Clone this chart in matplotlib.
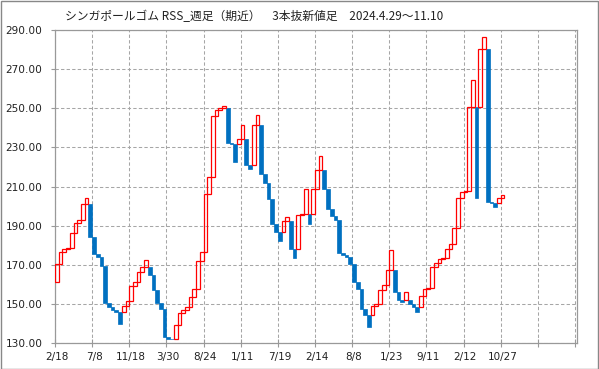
import matplotlib
matplotlib.use("Agg")
import matplotlib.pyplot as plt
from matplotlib.patches import Rectangle

plt.rcParams['lines.scale_dashes'] = False

# ---- data (three-line-break bars) ----
first_open = 161.1
closes = [
    170.5, 176.5, 178.2, 178.7, 186.2, 191.3, 193.0, 201.0, 204.0, 184.1,
    175.4, 174.3, 169.7, 150.4, 148.4, 146.9, 146.2, 139.7, 149.1, 151.6,
    159.1, 161.1, 166.6, 169.0, 172.4, 164.9, 157.1, 150.4, 147.4, 133.1,
    132.4, 132.0, 139.4, 145.7, 147.0, 148.7, 153.5, 157.6, 171.9, 176.5,
    206.1, 214.8, 246.1, 249.1, 250.0, 251.2, 232.5, 231.8, 222.8, 234.2,
    241.3, 221.1, 219.0, 241.5, 246.6, 216.3, 212.0, 203.5, 190.8, 186.7,
    182.4, 192.3, 194.3, 178.0, 173.7, 195.4, 196.0, 208.6, 191.1, 208.6,
    218.3, 225.7, 208.6, 198.4, 194.8, 193.0, 175.9, 175.3, 174.2, 170.3,
    161.5, 157.8, 147.3, 144.2, 138.5, 149.1, 150.1, 157.0, 159.6, 167.4,
    177.6, 156.0, 152.1, 151.2, 156.0, 150.1, 148.4, 146.1, 154.1, 157.6,
    158.2, 168.9, 171.2, 173.0, 173.6, 178.0, 180.6, 188.7, 204.0, 207.1,
    208.0, 250.5, 264.5, 204.4, 280.1, 286.3, 202.3, 201.8, 199.4, 204.4,
    205.6,
]
x_tick_labels = ["2/18", "7/8", "11/18", "3/30", "8/24", "1/11", "7/19",
                 "2/14", "8/8", "1/23", "9/11", "2/12", "10/27"]
y_ticks = [130, 150, 170, 190, 210, 230, 250, 270, 290]
title = "シンガポールゴム RSS_週足（期近）　3本抜新値足　2024.4.29～11.10"

# ---- derive opens / directions (new-value-line rules) ----
opens, ups = [], []
for i, c in enumerate(closes):
    if i == 0:
        o = first_open
        up = c > o
    else:
        pc, po, pup = closes[i - 1], opens[i - 1], ups[i - 1]
        if pup:
            up = c > pc
            o = pc if up else po
        else:
            up = not (c < pc)
            o = pc if not up else po
    opens.append(o)
    ups.append(up)

RED = "#FF0000"
BLUE = "#0070C0"
GRID = "#A6A6A6"
SPINE = "#999999"

fig = plt.figure(figsize=(5.99, 3.69), dpi=100)
W, H = 599, 369
left, right, top, bottom = 55, 577, 30, 343.3
ax = fig.add_axes([left / W, 1 - bottom / H, (right - left) / W, (bottom - top) / H])

up_x = [i + 0.5 for i in range(len(closes)) if ups[i]]
up_b = [opens[i] for i in range(len(closes)) if ups[i]]
up_h = [closes[i] - opens[i] for i in range(len(closes)) if ups[i]]
dn_x = [i + 0.5 for i in range(len(closes)) if not ups[i]]
dn_b = [closes[i] for i in range(len(closes)) if not ups[i]]
dn_h = [opens[i] - closes[i] for i in range(len(closes)) if not ups[i]]

ax.bar(dn_x, dn_h, bottom=dn_b, width=1.0, color=BLUE, edgecolor=BLUE,
       linewidth=0.5, zorder=3)
ax.bar(up_x, up_h, bottom=up_b, width=1.0, fill=False, edgecolor=RED,
       linewidth=0.9, zorder=4)

ax.set_xlim(0, 140.55)
ax.set_ylim(130, 290)

# gridlines / ticks
ax.set_xticks(range(0, 141, 10))
ax.set_xticklabels([])
ax.set_xticks([10 * k + 0.5 for k in range(len(x_tick_labels))], minor=True)
ax.set_xticklabels(x_tick_labels, minor=True)
ax.tick_params(axis='x', which='major', direction='inout', length=6, width=0.8, color=SPINE)
ax.tick_params(axis='x', which='minor', length=0, pad=6, labelsize=7.5, labelcolor='#222222')
ax.set_yticks(y_ticks)
ax.set_yticklabels([f"{v:.2f}" for v in y_ticks])
ax.tick_params(axis='y', direction='out', length=3, width=0.8, color=SPINE, pad=6,
               labelsize=7.6, labelcolor='#222222')

ax.grid(True, which='major', axis='both', color=GRID, linewidth=0.75,
        linestyle=(0, (2.4, 1.6)), zorder=0)
ax.set_axisbelow(True)
for s in ax.spines.values():
    s.set_color(SPINE)
    s.set_linewidth(0.9)

fig.text(65 / W, 1 - 17 / H, title, ha='left', va='center', fontsize=8.5,
         family=['Noto Sans CJK JP', 'DejaVu Sans'], color='#222222')

fig.add_artist(Rectangle((0.5 / W, 0.5 / H), 1 - 1.5 / W, 1 - 1.5 / H,
                         transform=fig.transFigure, fill=False,
                         edgecolor='#888888', linewidth=1))

fig.savefig("out.png", dpi=100)
